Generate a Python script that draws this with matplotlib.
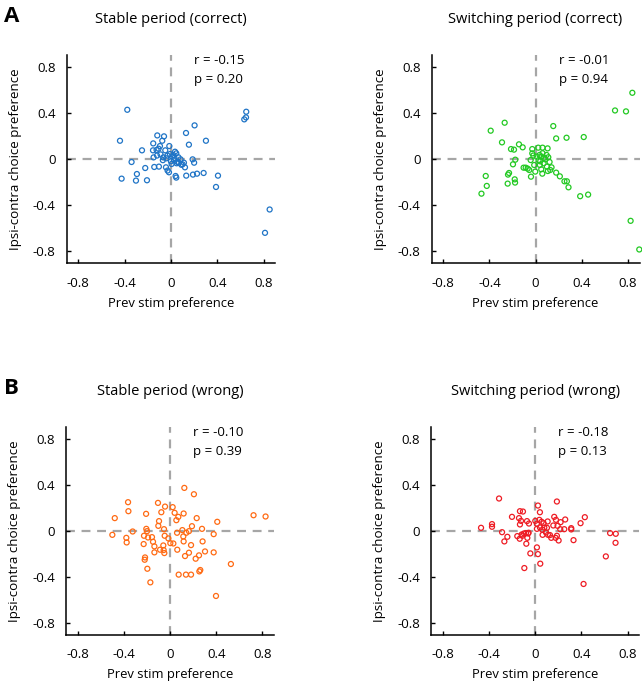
import numpy as np
import matplotlib
matplotlib.use('Agg')
import matplotlib.pyplot as plt

plt.rcParams['font.family'] = ['Open Sans', 'DejaVu Sans']

# stable period (correct)
sc_x = [-0.377, -0.44, -0.426, -0.34, -0.294, -0.302, -0.25, -0.222, -0.207, -0.153,
        -0.155, -0.144, -0.15, -0.118, -0.124, -0.107, -0.104, -0.095, -0.075, -0.06,
        -0.066, -0.049, -0.043, -0.04, -0.029, -0.014, -0.017, -0.009, 0.006, 0.02,
        0.035, 0.046, 0.026, 0.049, 0.04, 0.046, 0.069, 0.083, 0.1, 0.112,
        0.121, 0.13, 0.155, 0.132, 0.187, 0.2, 0.204, 0.19, 0.225, 0.282,
        0.302, 0.389, 0.406, 0.633, 0.648, 0.65, 0.852, 0.812,
        0.064, 0.012, -0.03, 0.0, 0.09, -0.09, -0.12, 0.03, -0.07, 0.055]
sc_y = [0.426, 0.158, -0.17, -0.026, -0.13, -0.187, 0.075, -0.078, -0.184, 0.135,
        0.075, -0.069, 0.014, 0.204, 0.078, 0.089, -0.066, 0.112, 0.158, 0.196,
        0.014, 0.075, -0.072, 0.006, -0.1, 0.112, -0.115, 0.043, -0.043, 0.035,
        0.063, 0.049, -0.009, -0.037, -0.147, -0.161, -0.032, -0.003, -0.046, -0.032,
        -0.072, 0.225, 0.124, -0.144, -0.003, -0.032, 0.291, -0.135, -0.127, -0.121,
        0.158, -0.242, -0.144, 0.343, 0.36, 0.409, -0.437, -0.639,
        0.015, 0.02, 0.03, -0.02, -0.05, 0.04, 0.03, 0.01, -0.01, -0.025]

# switching period (correct)
swc_x = [-0.268, -0.389, -0.291, -0.432, -0.423, -0.469, -0.239, -0.23, -0.242, -0.181,
         -0.178, -0.196, -0.176, -0.213, -0.187, -0.144, -0.112, -0.104, -0.086, -0.069,
         -0.055, -0.04, -0.043, -0.029, -0.029, -0.012, -0.003, 0.023, 0.06, 0.104,
         0.035, 0.049, 0.026, 0.037, 0.049, 0.058, 0.069, 0.083, 0.095, 0.098,
         0.106, 0.121, 0.138, 0.127, 0.153, 0.178, 0.178, 0.21, 0.25, 0.271,
         0.285, 0.268, 0.417, 0.386, 0.455, 0.688, 0.783, 0.838, 0.823, 0.898,
         0.01, 0.075, 0.04, 0.11, -0.02, 0.06]
swc_y = [0.314, 0.245, 0.144, -0.147, -0.233, -0.3, -0.135, -0.121, -0.213, -0.176,
         -0.204, -0.046, -0.006, 0.086, 0.081, 0.127, 0.101, -0.075, -0.075, -0.083,
         -0.095, -0.153, -0.009, 0.086, 0.049, -0.052, -0.109, 0.098, 0.098, 0.092,
         0.035, 0.02, -0.009, -0.052, -0.089, -0.127, -0.037, -0.003, 0.035, -0.066,
         -0.104, -0.026, -0.072, -0.095, 0.285, 0.178, -0.118, -0.15, -0.193, -0.193,
         -0.245, 0.184, 0.19, -0.322, -0.308, 0.42, 0.412, 0.573, -0.535, -0.783,
         0.02, 0.01, -0.02, 0.015, 0.03, 0.05]

# stable period (wrong)
sw_x = [-0.478, -0.499, -0.378, -0.375, -0.363, -0.36, -0.323, -0.207, -0.205, -0.199,
        -0.225, -0.228, -0.216, -0.219, -0.196, -0.17, -0.19, -0.156, -0.147, -0.135,
        -0.135, -0.104, -0.075, -0.043, -0.095, -0.101, -0.052, -0.046, -0.086, -0.058,
        -0.055, -0.049, -0.014, 0.003, 0.029, 0.023, 0.04, 0.072, 0.055, 0.061,
        0.063, 0.075, 0.124, 0.118, 0.107, 0.115, 0.118, 0.13, 0.141, 0.164,
        0.164, 0.182, 0.19, 0.138, 0.182, 0.207, 0.231, 0.222, 0.251, 0.254,
        0.262, 0.277, 0.282, 0.303, 0.378, 0.378, 0.409, 0.398, 0.527, 0.723, 0.827]
sw_y = [0.11, -0.035, -0.061, -0.101, 0.248, 0.17, -0.006, 0.147, 0.017, -0.003,
        -0.043, -0.115, -0.231, -0.251, -0.329, -0.447, -0.058, -0.055, -0.095, -0.135,
        -0.187, 0.242, 0.161, 0.21, 0.084, 0.043, 0.014, -0.043, -0.164, -0.127,
        -0.167, -0.193, -0.066, -0.107, -0.11, 0.205, 0.156, 0.121, 0.092, -0.017,
        -0.164, -0.38, 0.372, 0.15, 0.006, -0.049, -0.092, -0.219, -0.017, -0.003,
        -0.19, -0.124, 0.04, -0.38, -0.38, 0.317, 0.11, -0.242, -0.213, -0.352,
        -0.34, 0.017, -0.092, -0.179, -0.029, -0.187, 0.078, -0.565, -0.288, 0.135, 0.124]

# switching period (wrong)
sww_x = [-0.47, -0.375, -0.375, -0.314, -0.288, -0.268, -0.242, -0.202, -0.156, -0.133,
         -0.107, -0.141, -0.124, -0.133, -0.118, -0.135, -0.112, -0.098, -0.081, -0.063,
         -0.058, -0.072, -0.055, -0.078, -0.043, -0.095, -0.069, 0.0, 0.023, 0.04,
         0.014, 0.014, 0.035, 0.04, 0.055, 0.061, 0.072, 0.078, 0.092, 0.101,
         0.107, 0.063, 0.014, 0.023, 0.043, 0.11, 0.127, 0.138, 0.156, 0.164,
         0.176, 0.187, 0.179, 0.187, 0.202, 0.193, 0.219, 0.216, 0.251, 0.259,
         0.311, 0.311, 0.331, 0.392, 0.429, 0.418, 0.611, 0.648, 0.697, 0.695]
sww_y = [0.026, 0.058, 0.035, 0.28, -0.012, -0.092, -0.052, 0.121, -0.046, 0.17,
         0.167, 0.11, 0.086, 0.055, -0.032, -0.069, -0.043, -0.023, -0.02, -0.023,
         -0.017, 0.084, 0.063, -0.112, -0.196, -0.323, -0.061, 0.086, 0.219, 0.161,
         0.061, 0.017, 0.095, 0.029, 0.078, 0.009, 0.066, 0.029, -0.014, 0.026,
         0.081, -0.035, -0.144, -0.202, -0.285, -0.035, -0.037, -0.061, 0.046, 0.121,
         -0.061, 0.254, 0.095, -0.043, -0.084, 0.043, 0.075, 0.014, 0.014, 0.098,
         0.023, 0.012, -0.081, 0.066, 0.118, -0.461, -0.222, -0.02, -0.026, -0.104]

titles = ['Stable period (correct)', 'Switching period (correct)',
          'Stable period (wrong)', 'Switching period (wrong)']
r_vals = ['-0.15', '-0.01', '-0.10', '-0.18']
p_vals = ['0.20', '0.94', '0.39', '0.13']
colors = ['#1f74c6', '#22c922', '#ff6a13', '#ee1c24']
xs = [sc_x, swc_x, sw_x, sww_x]
ys = [sc_y, swc_y, sw_y, sww_y]
ticks = [-0.8, -0.4, 0, 0.4, 0.8]
tick_labels = ['-0.8', '-0.4', '0', '0.4', '0.8']

W, H = 642, 685
fig = plt.figure(figsize=(W / 100, H / 100), dpi=100)

# axes boxes in pixels: left, top, right, bottom
boxes = [(66.7, 55, 275.2, 263), (431.7, 55, 639.5, 263),
         (66.0, 427, 274.0, 634.6), (431.4, 427, 639.2, 634.6)]

for i in range(4):
    l, t, r, b = boxes[i]
    ax = fig.add_axes([l / W, 1 - b / H, (r - l) / W, (b - t) / H])
    ax.axhline(0, color='#a6a6a6', lw=1.6, ls=(0, (4, 3)), zorder=1)
    ax.axvline(0, color='#a6a6a6', lw=1.6, ls=(0, (4, 3)), zorder=1)
    ax.scatter(xs[i], ys[i], s=13, facecolors='none', edgecolors=colors[i],
               linewidths=0.9, zorder=3, clip_on=False)
    ax.set_xlim(-0.9, 0.9)
    ax.set_ylim(-0.9, 0.9)
    ax.set_xticks(ticks)
    ax.set_xticklabels(tick_labels)
    ax.set_yticks(ticks)
    ax.set_yticklabels(tick_labels)
    ax.tick_params(direction='in', length=3, width=1, labelsize=9.5)
    ax.tick_params(axis='x', pad=10)
    ax.tick_params(axis='y', pad=8)
    for s in ['top', 'right']:
        ax.spines[s].set_visible(False)
    for s in ['left', 'bottom']:
        ax.spines[s].set_linewidth(1.1)
    ax.set_xlabel('Prev stim preference', fontsize=9.4, labelpad=5)
    ax.set_ylabel('Ipsi-contra choice preference', fontsize=9.6, labelpad=8)
    ax.set_title(titles[i], fontsize=10.5, pad=23)
    ax.text(0.2, 0.85, 'r = ' + r_vals[i], fontsize=9.5, va='center', ha='left')
    ax.text(0.2, 0.69, 'p = ' + p_vals[i], fontsize=9.5, va='center', ha='left')

fig.text(4 / W, 1 - 17 / H, 'A', fontsize=16, fontweight='bold', va='center', ha='left')
fig.text(4 / W, 1 - 388 / H, 'B', fontsize=16, fontweight='bold', va='center', ha='left')

fig.savefig('out.png', dpi=100)
